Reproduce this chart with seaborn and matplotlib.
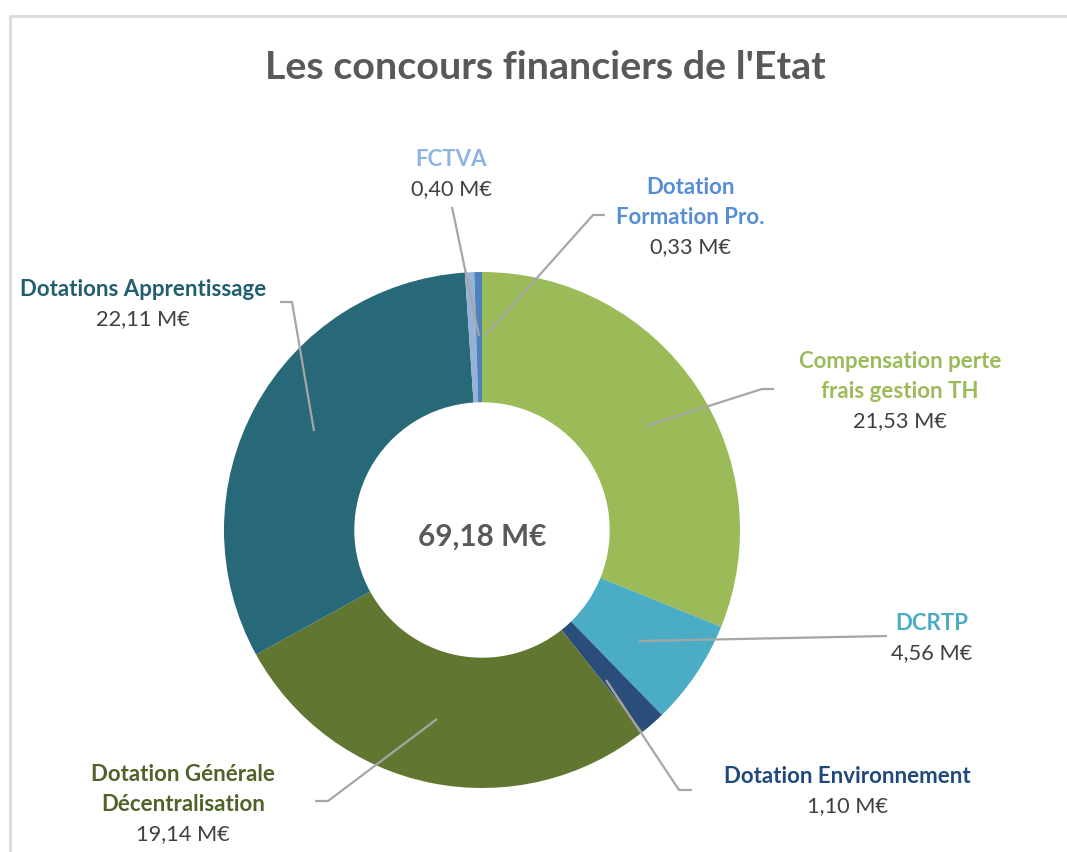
import matplotlib
matplotlib.use("Agg")
import matplotlib.pyplot as plt
import seaborn as sns
from matplotlib.patches import Rectangle

# data (clockwise from 12 o'clock)
categories = ["Compensation perte\nfrais gestion TH", "DCRTP", "Dotation Environnement",
              "Dotation Générale\nDécentralisation", "Dotations Apprentissage",
              "FCTVA", "Dotation\nFormation Pro."]
values = [21.53, 4.56, 1.10, 19.14, 22.11, 0.40, 0.33]
value_labels = ["21,53 M€", "4,56 M€", "1,10 M€", "19,14 M€", "22,11 M€", "0,40 M€", "0,33 M€"]
total_label = "69,18 M€"

slice_colors = ["#9BBB59", "#4BACC6", "#2A4D7A", "#617731", "#276979", "#95B3D7", "#4F81BD"]
label_colors = ["#9BBB59", "#4BACC6", "#1F497D", "#4F6228", "#215E6E", "#8DB4E2", "#558ED5"]

sns.set_theme(style="white")
plt.rcParams["font.family"] = ["Lato", "DejaVu Sans"]

W, H = 1067, 853
fig = plt.figure(figsize=(W / 100, H / 100), dpi=100)
ax = fig.add_axes([0, 0, 1, 1])

# work in pixel coords (y measured from the bottom)
def py(y):
    return H - y

cx, cy, r = 482, py(531), 258
ax.pie(values, colors=slice_colors, startangle=90, counterclock=False,
       center=(cx, cy), radius=r,
       wedgeprops=dict(width=r * 0.505, linewidth=0))
ax.set_xlim(0, W)
ax.set_ylim(0, H)
ax.set_aspect("equal")
ax.axis("off")

# outer frame (cropped screenshot: only left and top visible)
fig.patches.append(Rectangle((10 / W, -0.1), 1.2, (H - 17) / H + 0.1, transform=fig.transFigure,
                             fill=False, edgecolor="#D9D9D9", linewidth=2))

ax.text(545, py(67), "Les concours financiers de l'Etat", ha="center", va="center",
        fontsize=28.4, fontweight="bold", color="#595959")
ax.text(cx, py(537), total_label, ha="center", va="center",
        fontsize=21.4, fontweight="bold", color="#595959")

# label positions: (x, y of first line)
label_pos = [(900, 362), (932, 624), (847, 777), (183, 775), (143, 290), (451, 160), (690, 188)]
leaders = [
    [(646, 427), (762, 390), (774, 390)],
    [(639, 642), (887, 637)],
    [(606, 681), (679, 791), (692, 791)],
    [(437, 720), (328, 802), (315, 802)],
    [(314, 432), (292, 303), (280, 303)],
    [(479, 337), (452, 208)],
    [(486, 336), (593, 216), (605, 216)],
]
line_h = 29.3
for cat, val, col, (lx, ly), pts in zip(categories, value_labels, label_colors, label_pos, leaders):
    lines = cat.split("\n")
    for i, t in enumerate(lines):
        ax.text(lx, py(ly + i * line_h), t, ha="center", va="center",
                fontsize=16, fontweight="bold", color=col)
    ax.text(lx, py(ly + len(lines) * line_h), val, ha="center", va="center",
            fontsize=15.7, color="#404040")
    ax.plot([p[0] for p in pts], [py(p[1]) for p in pts], color="#A6A6A6", lw=1.6,
            solid_capstyle="butt")

fig.savefig("out.png", dpi=100, facecolor="white")
